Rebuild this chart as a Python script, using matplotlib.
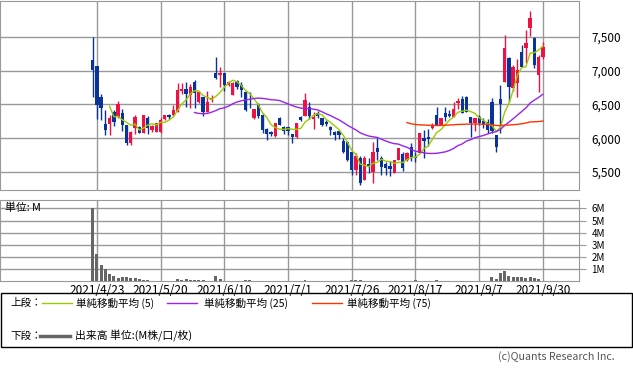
import numpy as np
import pandas as pd
import matplotlib
matplotlib.use("Agg")
import matplotlib.pyplot as plt
from matplotlib.patches import Rectangle
from matplotlib.lines import Line2D

plt.rcParams['font.family'] = ['Noto Sans CJK JP', 'DejaVu Sans']

# daily OHLC, first bar is 2021/4/22
opens = [7159, 7070, 6607, 6211, 6211, 6389, 6315, 6374, 6196, 5930,
         6152, 6166, 6078, 6300, 6122, 6096, 6096, 6285, 6340, 6344,
         6389, 6700, 6730, 6640, 6833, 6540, 6616, 6389, 6570, 6970,
         6940, 6967, 6790, 6640, 6850, 6790, 6685, 6600, 6300, 6490,
         6344, 6137, 6093, 6033, 6300, 6166, 6160, 6060, 6019, 6315,
         6330, 6470, 6290, 6374, 6300, 6240, 6166, 6093, 6100, 5960,
         5945, 5796, 5530, 5707, 5381, 5620, 5500, 5855, 5707, 5620,
         5590, 5485, 5678, 5767, 5678, 5870, 5720, 5781, 6004, 6020,
         6152, 6344, 6196, 6374, 6360, 6315, 6520, 6580, 6610, 6315,
         6226, 6315, 6260, 6240, 6537, 6048, 6581, 6838, 7184, 6740,
         6814, 7283, 7333, 7629, 7480, 6937, 7200]
highs = [7495, 7070, 6655, 6418, 6344, 6420, 6552, 6433, 6196, 6100,
         6344, 6180, 6344, 6330, 6196, 6226, 6300, 6344, 6360, 6493,
         6818, 6818, 6840, 6800, 6860, 6700, 6616, 6700, 6640, 7204,
         7050, 6967, 6850, 6833, 6860, 6840, 6700, 6690, 6440, 6520,
         6360, 6150, 6110, 6226, 6310, 6180, 6170, 6070, 6226, 6330,
         6670, 6530, 6390, 6400, 6300, 6270, 6180, 6110, 6110, 6000,
         5960, 5800, 5780, 5740, 5740, 5700, 5945, 6004, 5730, 5650,
         5660, 5678, 5855, 5790, 5800, 5930, 5790, 6078, 6120, 6130,
         6220, 6460, 6300, 6460, 6420, 6540, 6590, 6620, 6630, 6315,
         6300, 6350, 6300, 6280, 6600, 6048, 6790, 7530, 7200, 7080,
         7170, 7380, 7610, 7880, 7500, 7230, 7420]
lows = [6616, 6285, 6270, 6048, 6048, 6180, 6300, 6107, 5900, 5900,
        6063, 6078, 6078, 6063, 6090, 6096, 6080, 6270, 6280, 6330,
        6389, 6650, 6470, 6450, 6450, 6520, 6330, 6389, 6540, 6880,
        6760, 6700, 6780, 6640, 6730, 6610, 6400, 6450, 6280, 6300,
        6085, 5975, 6040, 6020, 6190, 6060, 6050, 5930, 6010, 6250,
        6330, 6280, 6140, 6300, 6180, 6180, 6050, 5975, 5990, 5780,
        5660, 5455, 5450, 5300, 5381, 5480, 5340, 5678, 5450, 5450,
        5440, 5485, 5678, 5520, 5660, 5660, 5650, 5781, 5700, 5890,
        6140, 6196, 6196, 6260, 6320, 6315, 6440, 6374, 6390, 6020,
        6110, 6200, 6150, 6080, 6080, 5796, 6078, 6838, 6542, 6700,
        6610, 7060, 7110, 7520, 7040, 6690, 7180]
closes = [7011, 6493, 6448, 6122, 6300, 6240, 6507, 6196, 5930, 6093,
          6315, 6078, 6344, 6152, 6181, 6226, 6270, 6344, 6320, 6418,
          6715, 6730, 6655, 6760, 6670, 6685, 6389, 6537, 6600, 6890,
          6970, 6790, 6833, 6818, 6760, 6715, 6418, 6590, 6433, 6330,
          6122, 6063, 6063, 6226, 6196, 6107, 6110, 6019, 6226, 6270,
          6570, 6330, 6315, 6330, 6196, 6215, 6122, 6048, 6048, 5796,
          5678, 5530, 5737, 5337, 5707, 5574, 5796, 5796, 5574, 5560,
          5545, 5678, 5855, 5559, 5781, 5707, 5700, 6078, 5960, 5990,
          6196, 6196, 6300, 6315, 6330, 6433, 6550, 6374, 6390, 6226,
          6300, 6226, 6200, 6122, 6100, 5870, 6507, 7333, 6764, 7060,
          7011, 7060, 7407, 7777, 7085, 7200, 7356]
# volume in millions
volume = [6.05, 2.2, 1.32, 0.97, 0.6, 0.41, 0.25, 0.33, 0.33, 0.22,
          0.28, 0.14, 0.08, 0.08, 0.03, 0.03, 0.02, 0.03, 0.02, 0.03,
          0.15, 0.1, 0.14, 0.05, 0.08, 0.05, 0.07, 0.04, 0.04, 0.4,
          0.2, 0.04, 0.03, 0.03, 0.03, 0.03, 0.06, 0.06, 0.03, 0.02,
          0.03, 0.02, 0.02, 0.03, 0.02, 0.02, 0.03, 0.02, 0.02, 0.03,
          0.06, 0.02, 0.02, 0.03, 0.02, 0.02, 0.02, 0.03, 0.02, 0.02,
          0.02, 0.06, 0.07, 0.06, 0.02, 0.02, 0.03, 0.02, 0.02, 0.02,
          0.02, 0.02, 0.03, 0.02, 0.02, 0.02, 0.05, 0.02, 0.02, 0.02,
          0.02, 0.07, 0.02, 0.02, 0.02, 0.02, 0.02, 0.03, 0.02, 0.02,
          0.02, 0.02, 0.02, 0.03, 0.33, 0.15, 0.63, 0.83, 0.45, 0.35,
          0.35, 0.33, 0.28, 0.35, 0.25, 0.2, 0.04]
date_labels = ["2021/4/23", "2021/5/20", "2021/6/10", "2021/7/1",
               "2021/7/26", "2021/8/17", "2021/9/7", "2021/9/30"]
price_ticks = [5500, 6000, 6500, 7000, 7500]
vol_ticks = [1, 2, 3, 4, 5, 6]

UP = '#ee1144'
DOWN = '#0a3399'
GRID = '#999999'
MA_COLORS = {5: '#99cc00', 25: '#9922ee', 75: '#ff3300'}

n = len(closes)
x = np.arange(n) - 1          # 4/23 = 0
tick_x = np.arange(0, n - 1, 15)
o = np.array(opens)
c = np.array(closes)
up = c >= o

fig = plt.figure(figsize=(6.33, 3.71), dpi=100)
W, H = 633, 371


def axes_px(l, t, r, b):
    return fig.add_axes([l / W, 1 - b / H, (r - l) / W, (b - t) / H])


xlim = (-22.8, 113.5)

# price panel
ax = axes_px(0, 0.5, 579, 190)
for v in tick_x:
    ax.axvline(v, color=GRID, lw=1.0, zorder=0)
for p in price_ticks:
    ax.axhline(p, color=GRID, lw=1.0, zorder=0)
ax.vlines(x, lows, highs, colors=np.where(up, UP, DOWN), lw=1.0, zorder=2)
body_h = np.maximum(np.abs(c - o), 12)
ax.bar(x, body_h, bottom=np.minimum(o, c), width=0.78,
       color=np.where(up, UP, DOWN), linewidth=0, zorder=3)
cs = pd.Series(closes, index=x)
for w, col in MA_COLORS.items():
    ma = cs.rolling(w).mean()
    ax.plot(ma.index, ma.values, color=col, lw=1.0, zorder=4)
ax.set_xlim(*xlim)
ax.set_ylim(5233, 8041)
ax.set_xticks([])
ax.yaxis.tick_right()
ax.set_yticks(price_ticks)
ax.set_yticklabels([f"{p:,}" for p in price_ticks])
ax.tick_params(axis='y', length=0, pad=9, labelsize=8.5)
for s in ax.spines.values():
    s.set_color(GRID)

# volume panel
av = axes_px(0, 200, 579, 281)
for v in tick_x:
    av.axvline(v, color=GRID, lw=1.0, zorder=0)
for t in vol_ticks:
    av.axhline(t, color=GRID, lw=1.0, zorder=0)
av.bar(x, volume, width=0.7, color='#666666', linewidth=0, zorder=2)
av.set_xlim(*xlim)
av.set_ylim(0, 6.7)
av.yaxis.tick_right()
av.set_yticks(vol_ticks)
av.set_yticklabels([f"{t}M" for t in vol_ticks])
av.tick_params(axis='y', length=5, color=GRID, pad=4, labelsize=7)
av.set_xticks(tick_x)
av.set_xticklabels(date_labels)
av.tick_params(axis='x', length=0, pad=2, labelsize=8.5)
for s in av.spines.values():
    s.set_color(GRID)
av.text(5 / 579, 0.9, "単位: M", transform=av.transAxes, fontsize=7.8,
        va='center', ha='left')

# legend box
fig.patches.append(Rectangle((0.5 / W, 1 - 347 / H), 631 / W, 54 / H,
                             transform=fig.transFigure, fill=False,
                             edgecolor='black', lw=1.0))


def fx(px):
    return px / W


def fy(py):
    return 1 - py / H


fig.text(fx(10), fy(303), "上段：", fontsize=7.6, va='center')
fig.text(fx(10), fy(336), "下段：", fontsize=7.6, va='center')
legend_items = [(42, 76, 5), (167, 204, 25), (312, 347, 75)]
for lx, tx, w in legend_items:
    fig.add_artist(Line2D([fx(lx), fx(lx + 30)], [fy(303), fy(303)],
                          transform=fig.transFigure, color=MA_COLORS[w], lw=1.0))
    fig.text(fx(tx), fy(303), f"単純移動平均 ({w})", fontsize=7.6, va='center')
fig.add_artist(Line2D([fx(40), fx(70)], [fy(336), fy(336)],
                      transform=fig.transFigure, color='#666666', lw=2.5))
fig.text(fx(75), fy(336), "出来高 単位:(M株/口/枚)", fontsize=7.8, va='center')
fig.text(fx(615), fy(357), "(c)Quants Research Inc.", fontsize=7.7,
         color='#555555', ha='right', va='center')

fig.savefig("out.png", dpi=100)
